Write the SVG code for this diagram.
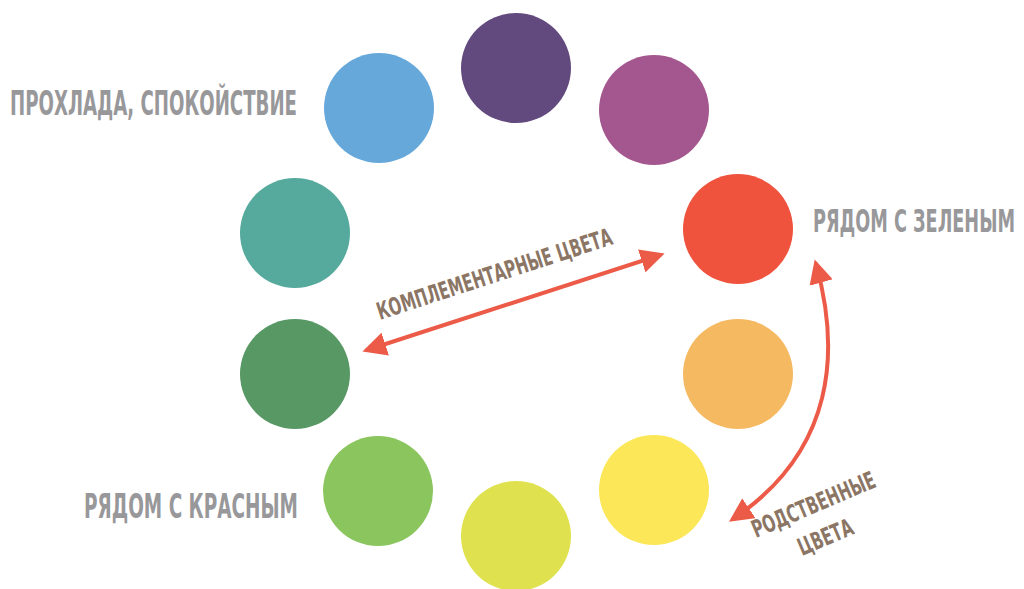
<svg xmlns="http://www.w3.org/2000/svg" width="1024" height="589" viewBox="0 0 1024 589">
<defs>
<style>
.lbl{font-family:"DejaVu Sans","Liberation Sans",sans-serif;font-weight:bold;font-stretch:condensed;fill:#98989b;}
.note{font-family:"DejaVu Sans","Liberation Sans",sans-serif;font-weight:bold;font-stretch:condensed;fill:#8b7564;}
.arr{fill:none;stroke:#ec5a48;stroke-width:4;stroke-linecap:round;}
</style>
<marker id="ah" viewBox="0 0 10 10" refX="8" refY="5" markerWidth="6" markerHeight="6" orient="auto-start-reverse" markerUnits="strokeWidth">
<path d="M0,0 L10,5 L0,10 z" fill="#ec5a48"/>
</marker>
</defs>
<rect width="1024" height="589" fill="#ffffff"/>
<g id="c-purple"><circle cx="516" cy="68" r="55" fill="#634a7e"/></g>
<g id="c-magenta"><circle cx="654" cy="110" r="55" fill="#a4578f"/></g>
<g id="c-red"><circle cx="738" cy="229" r="55" fill="#ef533d"/></g>
<g id="c-orange"><circle cx="738" cy="374" r="55" fill="#f5b962"/></g>
<g id="c-yellow"><circle cx="654" cy="490" r="55" fill="#fbe757"/></g>
<g id="c-lime"><circle cx="516" cy="536" r="55" fill="#dfe24e"/></g>
<g id="c-lightgreen"><circle cx="378" cy="491" r="55" fill="#8ac55d"/></g>
<g id="c-green"><circle cx="295" cy="374" r="55" fill="#579865"/></g>
<g id="c-teal"><circle cx="295" cy="233" r="55" fill="#56aa9d"/></g>
<g id="c-blue"><circle cx="379" cy="108" r="55" fill="#67a8da"/></g>
<g id="connectors">
<path class="arr" d="M367 350 L660 255" marker-start="url(#ah)" marker-end="url(#ah)"/>
<path class="arr" d="M816 264 C840 350 836 450 733 519" marker-start="url(#ah)" marker-end="url(#ah)"/>
</g>
<g id="labels">
<text class="lbl" x="10" y="115" font-size="34" textLength="287" lengthAdjust="spacingAndGlyphs">ПРОХЛАДА, СПОКОЙСТВИЕ</text>
<text class="lbl" x="813" y="232" font-size="32" textLength="202" lengthAdjust="spacingAndGlyphs">РЯДОМ С ЗЕЛЕНЫМ</text>
<text class="lbl" x="84" y="518" font-size="34" textLength="214" lengthAdjust="spacingAndGlyphs">РЯДОМ С КРАСНЫМ</text>
<text class="note" transform="translate(380,320) rotate(-18)" font-size="24" textLength="246" lengthAdjust="spacingAndGlyphs">КОМПЛЕМЕНТАРНЫЕ ЦВЕТА</text>
<text class="note" transform="translate(756,538) rotate(-23)" font-size="24" textLength="132" lengthAdjust="spacingAndGlyphs">РОДСТВЕННЫЕ</text>
<text class="note" transform="translate(802,556) rotate(-23)" font-size="24" textLength="58" lengthAdjust="spacingAndGlyphs">ЦВЕТА</text>
</g>
</svg>
